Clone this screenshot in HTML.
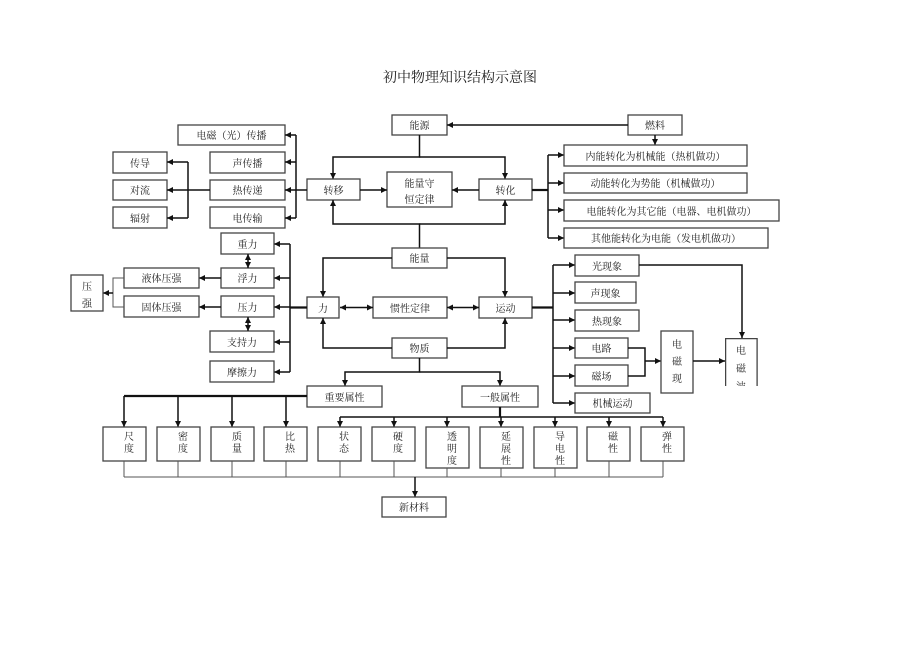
<!DOCTYPE html>
<html><head><meta charset="utf-8"><style>
html,body{margin:0;padding:0;background:#fff;}
svg{display:block;}
text{font-family:"Liberation Serif","Noto Serif CJK SC",serif;font-size:10px;fill:#222;}
.b{fill:#fff;stroke:#444;stroke-width:1.3;}
.l{fill:none;stroke:#111;stroke-width:1.5;}
.k{fill:none;stroke:#111;stroke-width:2.2;}
.g{fill:none;stroke:#555;stroke-width:1;}
</style></head><body>
<svg width="920" height="651" viewBox="0 0 920 651" xmlns="http://www.w3.org/2000/svg">
<defs>
<marker id="a" viewBox="0 0 10 10" refX="10" refY="5" markerWidth="6" markerHeight="6" orient="auto-start-reverse" markerUnits="userSpaceOnUse"><path d="M0,0L10,5L0,10z" fill="#111"/></marker>
</defs>
<text x="460" y="82" text-anchor="middle" style="font-size:14px">初中物理知识结构示意图</text>

<!-- top energy section -->
<rect class="b" x="392" y="115" width="55" height="20"/><text x="419.5" y="129" text-anchor="middle">能源</text>
<rect class="b" x="628" y="115" width="54" height="20"/><text x="655" y="129" text-anchor="middle">燃料</text>
<path class="l" d="M628,125H447" marker-end="url(#a)"/>
<path class="l" d="M655,135V145" marker-end="url(#a)"/>
<path class="l" d="M419.5,135V157H333V179" marker-end="url(#a)"/>
<path class="l" d="M419.5,157H505V179" marker-end="url(#a)"/>
<rect class="b" x="307" y="179" width="53" height="21"/><text x="333.5" y="194" text-anchor="middle">转移</text>
<rect class="b" x="387" y="172" width="65" height="35"/><text x="419.5" y="187" text-anchor="middle">能量守</text><text x="419.5" y="203" text-anchor="middle">恒定律</text>
<rect class="b" x="479" y="179" width="53" height="21"/><text x="505.5" y="194" text-anchor="middle">转化</text>
<path class="l" d="M360,190H387" marker-end="url(#a)"/>
<path class="l" d="M479,190H452" marker-end="url(#a)"/>
<path class="l" d="M419.5,248V224H333V200" marker-end="url(#a)"/>
<path class="l" d="M419.5,224H505V200" marker-end="url(#a)"/>

<!-- left transfer -->
<rect class="b" x="178" y="125" width="107" height="20"/><text x="231.5" y="139" text-anchor="middle">电磁（光）传播</text>
<rect class="b" x="210" y="152" width="75" height="21"/><text x="247.5" y="167" text-anchor="middle">声传播</text>
<rect class="b" x="210" y="180" width="75" height="20"/><text x="247.5" y="194" text-anchor="middle">热传递</text>
<rect class="b" x="210" y="207" width="75" height="21"/><text x="247.5" y="222" text-anchor="middle">电传输</text>
<path class="l" d="M307,190H296"/>
<path class="l" d="M296,135V218"/>
<path class="l" d="M296,135H285" marker-end="url(#a)"/>
<path class="l" d="M296,162H285" marker-end="url(#a)"/>
<path class="l" d="M296,190H285" marker-end="url(#a)"/>
<path class="l" d="M296,218H285" marker-end="url(#a)"/>
<rect class="b" x="113" y="152" width="54" height="21"/><text x="140" y="167" text-anchor="middle">传导</text>
<rect class="b" x="113" y="180" width="54" height="20"/><text x="140" y="194" text-anchor="middle">对流</text>
<rect class="b" x="113" y="207" width="54" height="21"/><text x="140" y="222" text-anchor="middle">辐射</text>
<path class="l" d="M210,190H188"/>
<path class="l" d="M188,162V218"/>
<path class="l" d="M188,162H167" marker-end="url(#a)"/>
<path class="l" d="M188,190H167" marker-end="url(#a)"/>
<path class="l" d="M188,218H167" marker-end="url(#a)"/>

<!-- conversion right -->
<path class="k" d="M532,190H548"/>
<path class="l" d="M548,155V238"/>
<path class="l" d="M548,155H564" marker-end="url(#a)"/>
<path class="l" d="M548,183H564" marker-end="url(#a)"/>
<path class="l" d="M548,210H564" marker-end="url(#a)"/>
<path class="l" d="M548,238H564" marker-end="url(#a)"/>
<rect class="b" x="564" y="145" width="183" height="21"/><text x="655.5" y="160" text-anchor="middle">内能转化为机械能（热机做功）</text>
<rect class="b" x="564" y="173" width="183" height="20"/><text x="655.5" y="187" text-anchor="middle">动能转化为势能（机械做功）</text>
<rect class="b" x="564" y="200" width="215" height="21"/><text x="671.5" y="215" text-anchor="middle">电能转化为其它能（电器、电机做功）</text>
<rect class="b" x="564" y="228" width="204" height="20"/><text x="666" y="242" text-anchor="middle">其他能转化为电能（发电机做功）</text>

<!-- middle -->
<rect class="b" x="392" y="248" width="55" height="20"/><text x="419.5" y="262" text-anchor="middle">能量</text>
<path class="l" d="M392,258H323V297" marker-end="url(#a)"/>
<path class="l" d="M447,258H505V297" marker-end="url(#a)"/>
<rect class="b" x="307" y="297" width="32" height="21"/><text x="323" y="312" text-anchor="middle">力</text>
<rect class="b" x="373" y="297" width="74" height="21"/><text x="410" y="312" text-anchor="middle">惯性定律</text>
<rect class="b" x="479" y="297" width="53" height="21"/><text x="505.5" y="312" text-anchor="middle">运动</text>
<path class="l" d="M340,307.5H373" marker-start="url(#a)" marker-end="url(#a)"/>
<path class="l" d="M447,307.5H479" marker-start="url(#a)" marker-end="url(#a)"/>
<rect class="b" x="392" y="338" width="55" height="20"/><text x="419.5" y="352" text-anchor="middle">物质</text>
<path class="l" d="M392,348H323V318" marker-end="url(#a)"/>
<path class="l" d="M447,348H505V318" marker-end="url(#a)"/>
<path class="l" d="M419.5,358V372H345V386" marker-end="url(#a)"/>
<path class="l" d="M419.5,372H500V386" marker-end="url(#a)"/>

<!-- force left -->
<path class="k" d="M307,307.5H290"/>
<path class="l" d="M290,244V372"/>
<path class="l" d="M290,244H274" marker-end="url(#a)"/>
<path class="l" d="M290,278H274" marker-end="url(#a)"/>
<path class="l" d="M290,307H274" marker-end="url(#a)"/>
<path class="l" d="M290,342H274" marker-end="url(#a)"/>
<path class="l" d="M290,372H274" marker-end="url(#a)"/>
<rect class="b" x="221" y="233" width="53" height="21"/><text x="247.5" y="248" text-anchor="middle">重力</text>
<rect class="b" x="221" y="268" width="53" height="20"/><text x="247.5" y="282" text-anchor="middle">浮力</text>
<rect class="b" x="221" y="296" width="53" height="21"/><text x="247.5" y="311" text-anchor="middle">压力</text>
<rect class="b" x="210" y="331" width="64" height="21"/><text x="242" y="346" text-anchor="middle">支持力</text>
<rect class="b" x="210" y="361" width="64" height="21"/><text x="242" y="376" text-anchor="middle">摩擦力</text>
<path class="l" d="M248,254V268" marker-start="url(#a)" marker-end="url(#a)"/>
<path class="l" d="M248,317V331" marker-start="url(#a)" marker-end="url(#a)"/>
<path class="l" d="M221,278H199" marker-end="url(#a)"/>
<path class="l" d="M221,307H199" marker-end="url(#a)"/>
<rect class="b" x="124" y="268" width="75" height="20"/><text x="161.5" y="282" text-anchor="middle">液体压强</text>
<rect class="b" x="124" y="296" width="75" height="21"/><text x="161.5" y="311" text-anchor="middle">固体压强</text>
<path class="g" d="M124,278H113V307H124"/>
<path class="l" d="M113,293H103" marker-end="url(#a)"/>
<rect class="b" x="71" y="275" width="32" height="36"/><text x="87" y="290" text-anchor="middle">压</text><text x="87" y="307" text-anchor="middle">强</text>

<!-- motion right -->
<path class="k" d="M532,307.5H553"/>
<path class="l" d="M553,265V403"/>
<path class="l" d="M553,265H575" marker-end="url(#a)"/>
<path class="l" d="M553,293H575" marker-end="url(#a)"/>
<path class="l" d="M553,320H575" marker-end="url(#a)"/>
<path class="l" d="M553,348H575" marker-end="url(#a)"/>
<path class="l" d="M553,376H575" marker-end="url(#a)"/>
<path class="l" d="M553,403H575" marker-end="url(#a)"/>
<rect class="b" x="575" y="255" width="64" height="21"/><text x="607" y="270" text-anchor="middle">光现象</text>
<rect class="b" x="575" y="282" width="61" height="21"/><text x="605.5" y="297" text-anchor="middle">声现象</text>
<rect class="b" x="575" y="310" width="64" height="21"/><text x="607" y="325" text-anchor="middle">热现象</text>
<rect class="b" x="575" y="338" width="53" height="20"/><text x="601.5" y="352" text-anchor="middle">电路</text>
<rect class="b" x="575" y="365" width="53" height="21"/><text x="601.5" y="380" text-anchor="middle">磁场</text>
<rect class="b" x="575" y="393" width="75" height="20"/><text x="612.5" y="407" text-anchor="middle">机械运动</text>
<path class="l" d="M628,348H645V376H628"/>
<path class="l" d="M645,361H661" marker-end="url(#a)"/>
<rect class="b" x="661" y="331" width="32" height="62"/><text x="677" y="348" text-anchor="middle">电</text><text x="677" y="365" text-anchor="middle">磁</text><text x="677" y="382" text-anchor="middle">现</text>
<path class="l" d="M693,361H725" marker-end="url(#a)"/>
<path class="l" d="M639,265H742V338" marker-end="url(#a)"/>
<svg x="725" y="338" width="33" height="48"><rect class="b" x="0.6" y="0.6" width="31.5" height="50"/><text x="16" y="16" text-anchor="middle">电</text><text x="16" y="34" text-anchor="middle">磁</text><text x="16" y="52" text-anchor="middle">波</text></svg>

<!-- properties -->
<rect class="b" x="307" y="386" width="75" height="21"/><text x="344.5" y="401" text-anchor="middle">重要属性</text>
<rect class="b" x="462" y="386" width="76" height="21"/><text x="500" y="401" text-anchor="middle">一般属性</text>
<path class="k" d="M307,396H124"/>
<path class="l" d="M124,396V427" marker-end="url(#a)"/>
<path class="l" d="M178,396V427" marker-end="url(#a)"/>
<path class="l" d="M232,396V427" marker-end="url(#a)"/>
<path class="l" d="M286,396V427" marker-end="url(#a)"/>
<path class="k" d="M500,407V417"/>
<path class="l" d="M340,417H663"/>
<path class="l" d="M340,417V427" marker-end="url(#a)"/>
<path class="l" d="M394,417V427" marker-end="url(#a)"/>
<path class="l" d="M447,417V427" marker-end="url(#a)"/>
<path class="l" d="M501,417V427" marker-end="url(#a)"/>
<path class="l" d="M555,417V427" marker-end="url(#a)"/>
<path class="l" d="M609,417V427" marker-end="url(#a)"/>
<path class="l" d="M663,417V427" marker-end="url(#a)"/>

<g>
<rect class="b" x="103" y="427" width="43" height="34"/><text x="129" y="440" text-anchor="middle">尺</text><text x="129" y="452" text-anchor="middle">度</text>
<rect class="b" x="157" y="427" width="43" height="34"/><text x="183" y="440" text-anchor="middle">密</text><text x="183" y="452" text-anchor="middle">度</text>
<rect class="b" x="211" y="427" width="43" height="34"/><text x="237" y="440" text-anchor="middle">质</text><text x="237" y="452" text-anchor="middle">量</text>
<rect class="b" x="264" y="427" width="43" height="34"/><text x="290" y="440" text-anchor="middle">比</text><text x="290" y="452" text-anchor="middle">热</text>
<rect class="b" x="318" y="427" width="43" height="34"/><text x="344" y="440" text-anchor="middle">状</text><text x="344" y="452" text-anchor="middle">态</text>
<rect class="b" x="372" y="427" width="43" height="34"/><text x="398" y="440" text-anchor="middle">硬</text><text x="398" y="452" text-anchor="middle">度</text>
<rect class="b" x="426" y="427" width="43" height="41"/><text x="452" y="440" text-anchor="middle">透</text><text x="452" y="452" text-anchor="middle">明</text><text x="452" y="464" text-anchor="middle">度</text>
<rect class="b" x="480" y="427" width="43" height="41"/><text x="506" y="440" text-anchor="middle">延</text><text x="506" y="452" text-anchor="middle">展</text><text x="506" y="464" text-anchor="middle">性</text>
<rect class="b" x="534" y="427" width="43" height="41"/><text x="560" y="440" text-anchor="middle">导</text><text x="560" y="452" text-anchor="middle">电</text><text x="560" y="464" text-anchor="middle">性</text>
<rect class="b" x="587" y="427" width="43" height="34"/><text x="613" y="440" text-anchor="middle">磁</text><text x="613" y="452" text-anchor="middle">性</text>
<rect class="b" x="641" y="427" width="43" height="34"/><text x="667" y="440" text-anchor="middle">弹</text><text x="667" y="452" text-anchor="middle">性</text>
</g>
<path class="g" d="M124,461V477M178,461V477M232,461V477M286,461V477M340,461V477M394,461V477M447,468V477M501,468V477M555,468V477M609,461V477M663,461V477M124,477H663"/>
<path class="l" d="M415,477V497" marker-end="url(#a)"/>
<rect class="b" x="382" y="497" width="64" height="20"/><text x="414" y="511" text-anchor="middle">新材料</text>
</svg>
</body></html>
